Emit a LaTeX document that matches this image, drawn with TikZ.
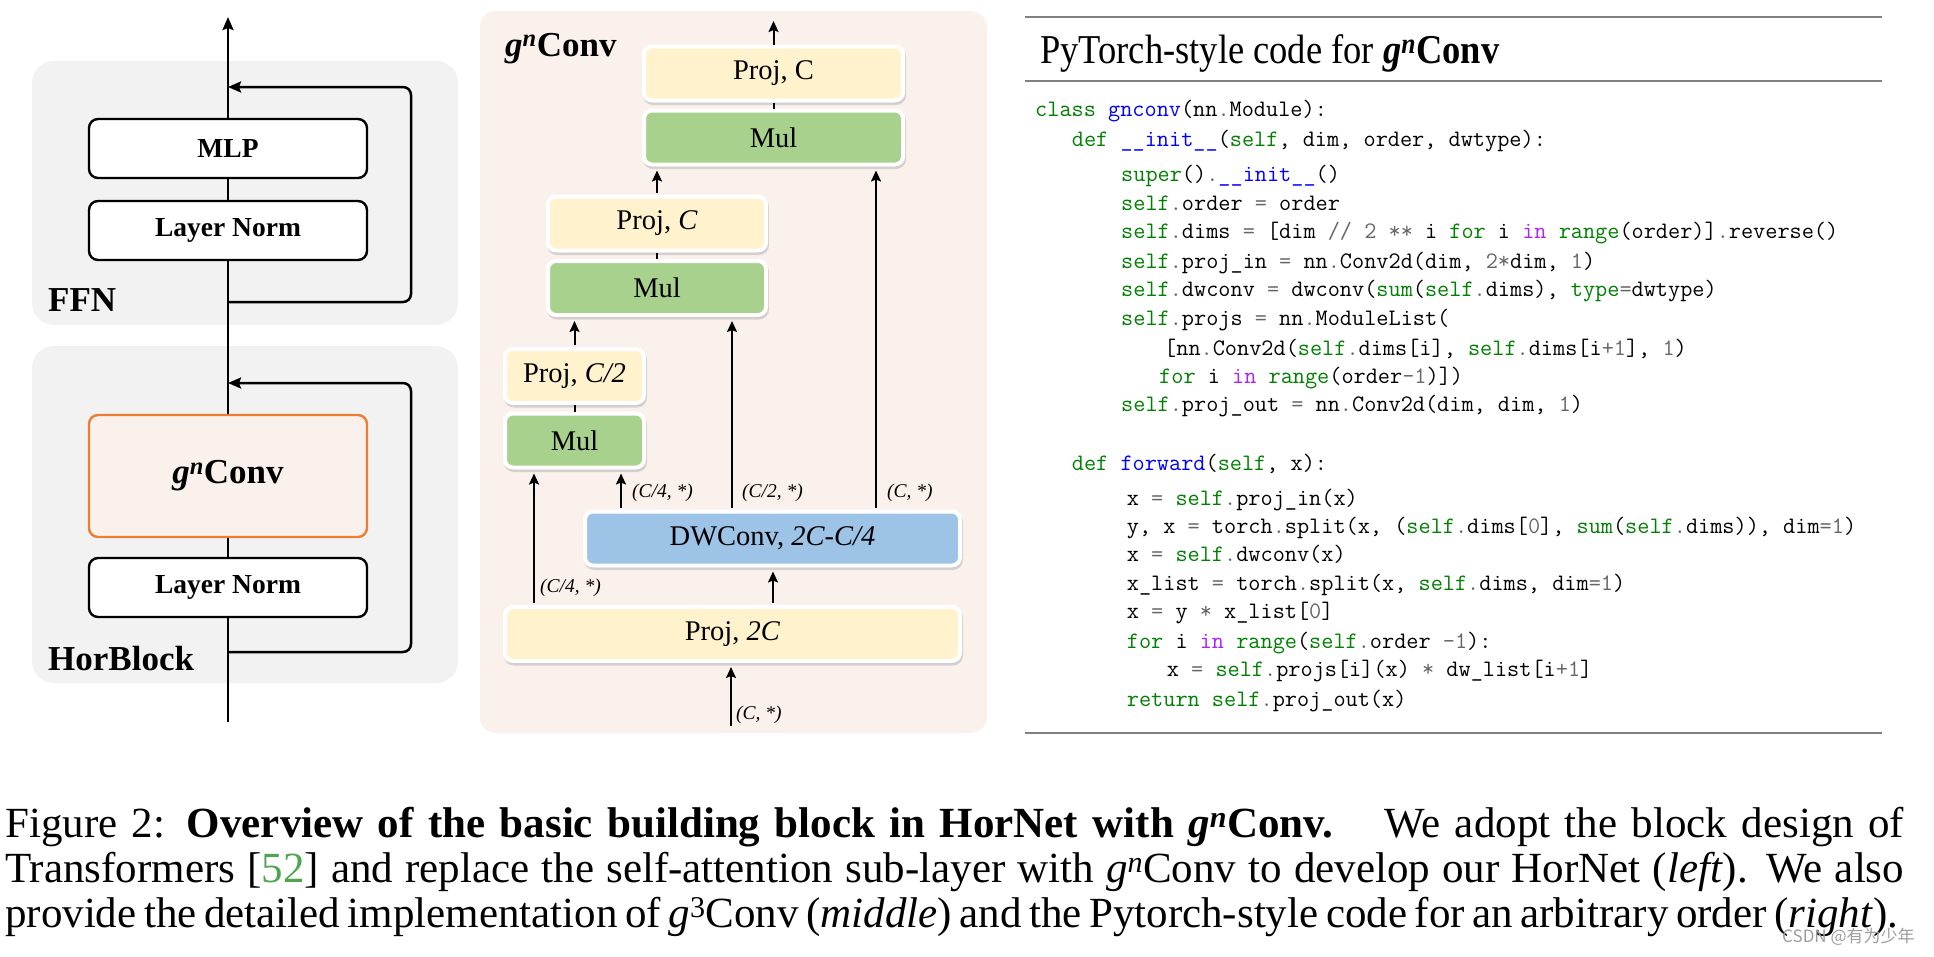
\documentclass[tikz,border=0pt]{standalone}
\usepackage{fontspec}
\setmainfont{Liberation Serif}
\newfontfamily\titlefont[FakeStretch=0.89]{Liberation Serif}
\newfontfamily\cjkfont{Noto Sans CJK SC}
\usetikzlibrary{arrows.meta,shadows}
\definecolor{lgray}{RGB}{242,242,242}
\definecolor{mpink}{RGB}{251,241,236}
\definecolor{orangeB}{RGB}{237,125,49}
\definecolor{projF}{RGB}{255,242,204}
\definecolor{mulF}{RGB}{169,209,142}
\definecolor{dwF}{RGB}{157,195,230}
\definecolor{pyg}{RGB}{0,128,0}
\definecolor{pyb}{RGB}{0,0,255}
\definecolor{pyp}{RGB}{170,34,255}
\definecolor{pyo}{RGB}{102,102,102}
\definecolor{ruleC}{RGB}{128,128,128}
\definecolor{citeG}{RGB}{80,165,80}
\newcommand\cG[1]{\textcolor{pyg}{#1}}
\newcommand\cB[1]{\textcolor{pyb}{#1}}
\newcommand\cP[1]{\textcolor{pyp}{#1}}
\newcommand\cO[1]{\textcolor{pyo}{#1}}
\newcommand\gnc{\textit{g}\textsuperscript{\textit{n}}Conv}
\begin{document}
\begin{tikzpicture}[x=1pt,y=-1pt,
  lbox/.style={draw=black,line width=2.4pt,rounded corners=9pt,fill=white,
    minimum width=278pt,minimum height=59pt,inner sep=0pt,
    font=\fontsize{27.5}{30}\selectfont\bfseries},
  mbox/.style={draw=white,line width=4pt,rounded corners=8pt,minimum height=54pt,
    inner sep=0pt,font=\fontsize{28.5}{30}\selectfont,
    drop shadow={shadow xshift=1pt,shadow yshift=-2.5pt,fill=black!30,draw=black!30,line width=4pt}},
  lline/.style={line width=2.5pt},
  lar/.style={line width=2.5pt,-{Stealth[length=13pt,width=11pt,inset=2pt]}},
  mar/.style={line width=2pt,-{Stealth[length=11pt,width=10pt,inset=2pt]},shorten >=4pt,shorten <=2pt},
  dimlab/.style={anchor=west,inner sep=0pt,font=\fontsize{19.5}{22}\selectfont\itshape},
  code/.style={anchor=base west,inner sep=0pt,font=\ttfamily\fontsize{23.6}{28}\selectfont},
  capt/.style={anchor=base west,inner sep=0pt,font=\fontsize{43}{45}\selectfont},
  rule/.style={draw=ruleC,line width=2pt}
]
\useasboundingbox (0,0) rectangle (1934,956);
\fill[white] (0,0) rectangle (1934,956);

% ---------------- left panel ----------------
\fill[lgray,rounded corners=22pt] (32,61) rectangle (458,325);
\fill[lgray,rounded corners=22pt] (32,346) rectangle (458,683);
\node[anchor=base west,inner sep=0pt,font=\fontsize{35}{38}\selectfont\bfseries] (ffn) at (48,311) {FFN};
\node[anchor=base west,inner sep=0pt,font=\fontsize{35}{38}\selectfont\bfseries] (hor) at (48,670) {HorBlock};

\node[lbox] (mlp) at (228,148.5) {MLP};
\node[lbox] (ln1) at (228,230.5) {Layer Norm};
\node[lbox,draw=orangeB,fill=mpink,minimum height=122pt,
      font=\fontsize{35}{38}\selectfont\bfseries] (gconv) at (228,476) {\gnc};
\node[lbox] (ln2) at (228,587.5) {Layer Norm};

\coordinate (lbot) at (228,722);
\coordinate (ltop) at (228,17);
\coordinate (r1s) at (228,302);
\coordinate (r1c) at (411,87);
\coordinate (r1e) at (228,87);
\coordinate (r2s) at (228,652);
\coordinate (r2c) at (411,383);
\coordinate (r2e) at (228,383);

\draw[lline] (lbot) -- (ln2.south);
\draw[lline] (ln2.north) -- (gconv.south);
\draw[lline] (gconv.north) -- (ln1.south);
\draw[lline] (ln1.north) -- (mlp.south);
\draw[lar] (mlp.north) -- (ltop);
\draw[lar,rounded corners=8pt] (r1s) -| (r1c) -- (r1e);
\draw[lar,rounded corners=8pt] (r2s) -| (r2c) -- (r2e);

% ---------------- middle panel ----------------
\fill[mpink,rounded corners=16pt] (480,11) rectangle (987,733);
\node[anchor=base west,inner sep=0pt,font=\fontsize{35}{38}\selectfont\bfseries] (mtitle) at (505,56) {\gnc};

\node[mbox,fill=projF,minimum width=259pt] (P3) at (773.5,73.5) {Proj, C};
\node[mbox,fill=mulF,minimum width=259pt] (M3) at (773.5,137.5) {Mul};
\node[mbox,fill=projF,minimum width=218pt] (P2) at (657,223.5) {Proj, \textit{C}};
\node[mbox,fill=mulF,minimum width=218pt] (M2) at (657,288) {Mul};
\node[mbox,fill=projF,minimum width=139pt] (P1) at (574.5,376) {Proj, \textit{C/2}};
\node[mbox,fill=mulF,minimum width=139pt] (M1) at (574.5,440.5) {Mul};
\node[mbox,fill=dwF,minimum width=375pt] (DW) at (772.5,538.5) {DWConv, \textit{2C-C/4}};
\node[mbox,fill=projF,minimum width=455pt] (P0) at (732.5,634) {Proj, \textit{2C}};

\coordinate (mtop) at (773.5,17);
\coordinate (min) at (731,726);
\coordinate (xa) at (534,0);
\coordinate (xb) at (621,0);
\coordinate (xc) at (732,0);
\coordinate (xd) at (876,0);
\coordinate (xe) at (773,0);

\draw[mar,shorten <=0pt] (P3.north) -- (mtop);
\draw[line width=2pt] (P3.south) -- (M3.north);
\draw[line width=2pt] (P2.south) -- (M2.north);
\draw[line width=2pt] (P1.south) -- (M1.north);
\draw[mar] (P2.north) -- (P2.north |- M3.south);
\draw[mar] (DW.north -| xd) -- (M3.south -| xd);
\draw[mar] (P1.north) -- (P1.north |- M2.south);
\draw[mar] (DW.north -| xc) -- (M2.south -| xc);
\draw[mar] (P0.north -| xa) -- (M1.south -| xa);
\draw[mar] (DW.north -| xb) -- (M1.south -| xb);
\draw[mar] (P0.north -| xe) -- (DW.south -| xe);
\draw[mar,shorten <=0pt] (min) -- (P0.south -| min);

\node[dimlab] (d1) at (632,493) {(C/4, *)};
\node[dimlab] (d2) at (742,493) {(C/2, *)};
\node[dimlab] (d3) at (887,493) {(C, *)};
\node[dimlab] (d4) at (540,588) {(C/4, *)};
\node[dimlab] (d5) at (736,715) {(C, *)};

% ---------------- right panel (code) ----------------
\coordinate (ra) at (1025,17);  \coordinate (rb) at (1882,17);
\coordinate (rc) at (1025,81);  \coordinate (rd) at (1882,81);
\coordinate (re) at (1025,733); \coordinate (rf) at (1882,733);
\draw[rule] (ra) -- (rb);
\draw[rule] (rc) -- (rd);
\draw[rule] (re) -- (rf);
\node[anchor=base west,inner sep=0pt,font=\titlefont\fontsize{41}{44}\selectfont] (ctitle) at (1040,63)
  {PyTorch-style code for \textbf{\gnc}};

\node[code] (c1)  at (1035,116.7) {\cG{class} \cB{gnconv}(nn\cO{.}Module):};
\node[code] (c2)  at (1071.7,146.7) {\cG{def} \cB{\_\_init\_\_}(\cG{self}, dim, order, dwtype):};
\node[code] (c3)  at (1121,181.7) {\cG{super}()\cO{.}\cB{\_\_init\_\_}()};
\node[code] (c4)  at (1121,210) {\cG{self}\cO{.}order \cO{=} order};
\node[code] (c5)  at (1121,238.5) {\cG{self}\cO{.}dims \cO{=} [dim \cO{//} \cO{2} \cO{**} i \cG{for} i \cP{in} \cG{range}(order)]\cO{.}reverse()};
\node[code] (c6)  at (1121,268.3) {\cG{self}\cO{.}proj\_in \cO{=} nn\cO{.}Conv2d(dim, \cO{2*}dim, \cO{1})};
\node[code] (c7)  at (1121,296.7) {\cG{self}\cO{.}dwconv \cO{=} dwconv(\cG{sum}(\cG{self}\cO{.}dims), \cG{type}\cO{=}dwtype)};
\node[code] (c8)  at (1121,325) {\cG{self}\cO{.}projs \cO{=} nn\cO{.}ModuleList(};
\node[code] (c9)  at (1164,355) {[nn\cO{.}Conv2d(\cG{self}\cO{.}dims[i], \cG{self}\cO{.}dims[i\cO{+1}], \cO{1})};
\node[code] (c10) at (1159,383.3) {\cG{for} i \cP{in} \cG{range}(order\cO{-1})])};
\node[code] (c11) at (1121,411.7) {\cG{self}\cO{.}proj\_out \cO{=} nn\cO{.}Conv2d(dim, dim, \cO{1})};
\node[code] (c12) at (1071.7,470) {\cG{def} \cB{forward}(\cG{self}, x):};
\node[code] (c13) at (1126.7,505) {x \cO{=} \cG{self}\cO{.}proj\_in(x)};
\node[code] (c14) at (1126.7,533.3) {y, x \cO{=} torch\cO{.}split(x, (\cG{self}\cO{.}dims[\cO{0}], \cG{sum}(\cG{self}\cO{.}dims)), dim\cO{=1})};
\node[code] (c15) at (1126.7,561.7) {x \cO{=} \cG{self}\cO{.}dwconv(x)};
\node[code] (c16) at (1126.7,590) {x\_list \cO{=} torch\cO{.}split(x, \cG{self}\cO{.}dims, dim\cO{=1})};
\node[code] (c17) at (1126.7,618.3) {x \cO{=} y \cO{*} x\_list[\cO{0}]};
\node[code] (c18) at (1126.7,648) {\cG{for} i \cP{in} \cG{range}(\cG{self}\cO{.}order \cO{-1}):};
\node[code] (c19) at (1166.7,676.7) {x \cO{=} \cG{self}\cO{.}projs[i](x) \cO{*} dw\_list[i\cO{+1}]};
\node[code] (c20) at (1126.7,706.7) {\cG{return} \cG{self}\cO{.}proj\_out(x)};

% ---------------- caption ----------------
\node[capt] (cap1) at (5,837) {\makebox[1899pt][s]{Figure 2: \textbf{Overview of the basic building block in HorNet with \gnc.}\hspace{0.6em} We adopt the block design of}};
\node[capt] (cap2) at (5,882) {\makebox[1899pt][s]{Transformers [\textcolor{citeG}{52}] and replace the self-attention sub-layer with \textit{g}\textsuperscript{\textit{n}}Conv to develop our HorNet (\textit{left}). We also}};
\node[capt] (cap3) at (5,927) {\makebox[1893pt][s]{provide the detailed implementation of \textit{g}\textsuperscript{3}Conv (\textit{middle}) and the Pytorch-style code for an arbitrary order (\textit{right}).}};

\node[anchor=west,inner sep=0pt,font=\cjkfont\fontsize{17}{20}\selectfont,text=black!38] (wm) at (1782,937) {CSDN @有为少年};
\end{tikzpicture}
\end{document}
